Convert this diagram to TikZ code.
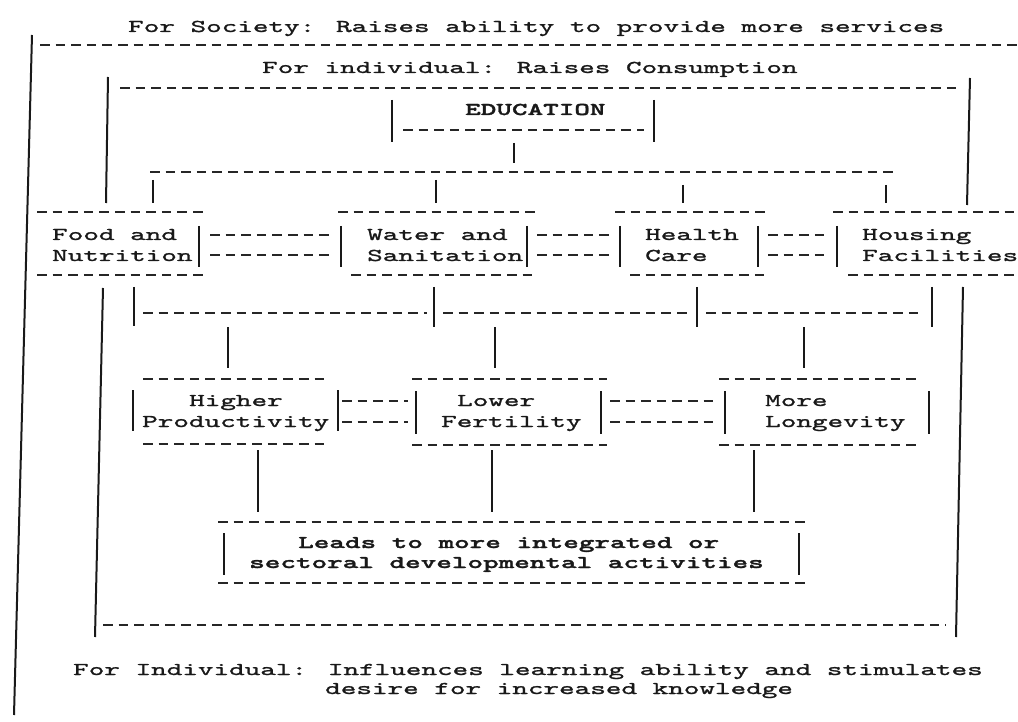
\documentclass[tikz,border=0pt]{standalone}
\usepackage{fontspec}
\newfontfamily\tw{lmmono10-regular.otf}[FakeStretch=1.65,FakeBold=1.3]
\newfontfamily\twb{lmmonolt10-bold.otf}[FakeStretch=1.65,FakeBold=1.6]
\tikzset{
  txt/.style={inner sep=0pt, anchor=base west, font=\tw\fontsize{18}{19}\selectfont, text=black!90},
  btxt/.style={inner sep=0pt, anchor=base west, font=\twb\fontsize{18}{19}\selectfont, text=black!90},
  dl/.style={line width=2pt, dash pattern=on 9.5pt off 6.1pt, black!85},
  bar/.style={line width=2pt, black!90},
}
\begin{document}
\begin{tikzpicture}[x=1pt,y=-1pt]
\useasboundingbox[fill=white] (0,0) rectangle (1018,722);
% texts
\node[txt] (soc) at (128,32) {For Society: Raises ability to provide more services};
\node[txt] (ind) at (262,73) {For individual: Raises Consumption};
\node[btxt] (edu) at (465,115) {EDUCATION};
\node[txt] (food1) at (52,240) {Food and};
\node[txt] (food2) at (52,261) {Nutrition};
\node[txt] (wat1) at (367,240) {Water and};
\node[txt] (wat2) at (367,261) {Sanitation};
\node[txt] (hea1) at (645,240) {Health};
\node[txt] (hea2) at (645,261) {Care};
\node[txt] (hou1) at (862,240) {Housing};
\node[txt] (hou2) at (862,261) {Facilities};
\node[txt] (hp1) at (189,406) {Higher};
\node[txt] (hp2) at (142,427) {Productivity};
\node[txt] (lf1) at (457,406) {Lower};
\node[txt] (lf2) at (441,427) {Fertility};
\node[txt] (ml1) at (765,406) {More};
\node[txt] (ml2) at (765,427) {Longevity};
\node[btxt] (lead1) at (298,548) {Leads to more integrated or};
\node[btxt] (lead2) at (249,568) {sectoral developmental activities};
\node[txt] (bot1) at (73,675) {For Individual: Influences learning ability and stimulates};
\node[txt] (bot2) at (325,694) {desire for increased knowledge};
% outer frame
\draw[bar] (32,35) -- (14,715);
\draw[dl] (40,45) -- (1018,45);
\draw[dl] (120,88) -- (960,88);
\draw[bar] (108,77) -- (106,203);
\draw[bar] (970,78) -- (967,205);
% education box
\draw[bar] (392,100) -- (392,142);
\draw[bar] (654,100) -- (654,142);
\draw[dl] (403,130) -- (644,130);
\draw[bar] (514,143) -- (514,163);
\draw[dl] (150,172) -- (893,172);
\draw[bar] (153,180) -- (153,203);
\draw[bar] (436,180) -- (436,203);
\draw[bar] (683,185) -- (683,203);
\draw[bar] (886,185) -- (886,203);
% row 1 boxes
\draw[dl] (37,212) -- (207,212);
\draw[dl] (37,275) -- (205,275);
\draw[bar] (199,226) -- (199,267);
\draw[dl] (210,235) -- (331,235);
\draw[dl] (210,255) -- (331,255);
\draw[bar] (341,226) -- (341,267);
\draw[dl] (338,212) -- (535,212);
\draw[dl] (351,275) -- (533,275);
\draw[bar] (527,226) -- (527,267);
\draw[dl] (537,235) -- (612,235);
\draw[dl] (537,255) -- (612,255);
\draw[bar] (620,226) -- (620,267);
\draw[dl] (615,212) -- (767,212);
\draw[dl] (630,275) -- (765,275);
\draw[bar] (758,226) -- (758,267);
\draw[dl] (768,235) -- (828,235);
\draw[dl] (768,255) -- (828,255);
\draw[bar] (837,226) -- (837,267);
\draw[dl] (833,212) -- (1018,212);
\draw[dl] (848,275) -- (1018,275);
% below row 1
\draw[bar] (103,288) -- (95,637);
\draw[bar] (963,287) -- (956,637);
\draw[bar] (134,287) -- (134,326);
\draw[bar] (434,287) -- (434,327);
\draw[bar] (697,287) -- (697,327);
\draw[bar] (932,287) -- (932,327);
\draw[dl] (143,313) -- (427,313);
\draw[dl] (443,313) -- (688,313);
\draw[dl] (706,313) -- (922,313);
\draw[bar] (228,327) -- (228,368);
\draw[bar] (495,327) -- (495,368);
\draw[bar] (804,327) -- (804,368);
% row 2 boxes
\draw[dl] (143,379) -- (330,379);
\draw[dl] (143,444) -- (327,444);
\draw[bar] (133,390) -- (133,431);
\draw[bar] (338,390) -- (338,431);
\draw[dl] (342,401) -- (408,401);
\draw[dl] (342,422) -- (408,422);
\draw[bar] (416,391) -- (416,434);
\draw[dl] (412,379) -- (607,379);
\draw[dl] (412,445) -- (607,445);
\draw[bar] (601,391) -- (601,434);
\draw[dl] (610,401) -- (716,401);
\draw[dl] (610,422) -- (716,422);
\draw[bar] (725,391) -- (725,434);
\draw[dl] (719,379) -- (919,379);
\draw[dl] (719,445) -- (917,445);
\draw[bar] (929,391) -- (929,434);
% below row 2
\draw[bar] (258,450) -- (258,512);
\draw[bar] (492,450) -- (492,512);
\draw[bar] (754,450) -- (754,512);
% leads box
\draw[dl] (218,522) -- (805,522);
\draw[dl] (218,583) -- (805,583);
\draw[bar] (224,533) -- (224,575);
\draw[bar] (799,533) -- (799,575);
\draw[dl] (103,625) -- (946,625);
\end{tikzpicture}
\end{document}
